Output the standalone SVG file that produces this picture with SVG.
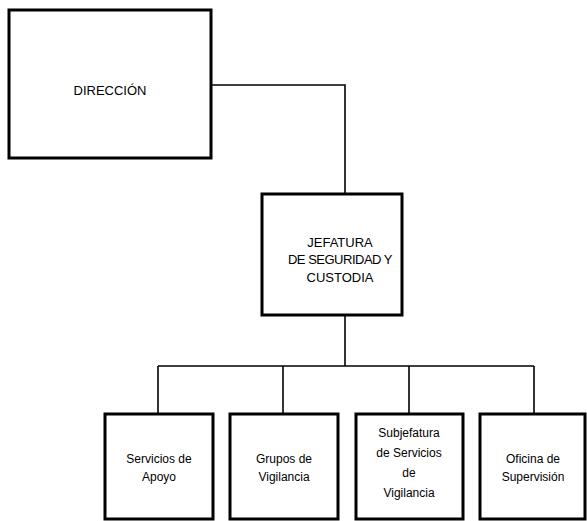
<svg xmlns="http://www.w3.org/2000/svg" width="587" height="521" viewBox="0 0 587 521">
<style>
.box{fill:#fff;stroke:#000;stroke-width:3}
.con{fill:none;stroke:#000;stroke-width:1.6}
text{font-family:"Liberation Sans",Arial,sans-serif;font-size:12px;fill:#000;text-anchor:middle}
.cap{font-size:13px}
</style>
<rect width="587" height="521" fill="#fff"/>
<g id="connectors">
<polyline class="con" points="211,85 345,85 345,193"/>
<line class="con" x1="345" y1="315" x2="345" y2="366"/>
<line class="con" x1="158" y1="366" x2="534" y2="366"/>
<line class="con" x1="158" y1="366" x2="158" y2="413"/>
<line class="con" x1="283" y1="366" x2="283" y2="413"/>
<line class="con" x1="409" y1="366" x2="409" y2="413"/>
<line class="con" x1="534" y1="366" x2="534" y2="413"/>
</g>
<g id="direccion">
<rect class="box" x="9" y="10" width="202" height="148"/>
<text class="cap" x="110" y="95">DIRECCIÓN</text>
</g>
<g id="jefatura">
<rect class="box" x="262" y="194" width="140" height="121"/>
<text class="cap" x="340" y="247">JEFATURA</text>
<text class="cap" x="340" y="264" letter-spacing="-0.5">DE SEGURIDAD Y</text>
<text class="cap" x="340" y="282">CUSTODIA</text>
</g>
<g id="servicios-apoyo">
<rect class="box" x="105" y="414" width="108" height="105"/>
<text x="159" y="463">Servicios de</text>
<text x="159" y="481">Apoyo</text>
</g>
<g id="grupos-vigilancia">
<rect class="box" x="230" y="414" width="108" height="105"/>
<text x="284" y="463">Grupos de</text>
<text x="284" y="481">Vigilancia</text>
</g>
<g id="subjefatura">
<rect class="box" x="356" y="414" width="107" height="105"/>
<text x="409" y="437">Subjefatura</text>
<text x="409" y="457">de Servicios</text>
<text x="409" y="477">de</text>
<text x="409" y="497">Vigilancia</text>
</g>
<g id="oficina-supervision">
<rect class="box" x="480" y="414" width="105" height="105"/>
<text x="533" y="463">Oficina de</text>
<text x="533" y="481">Supervisión</text>
</g>
</svg>
